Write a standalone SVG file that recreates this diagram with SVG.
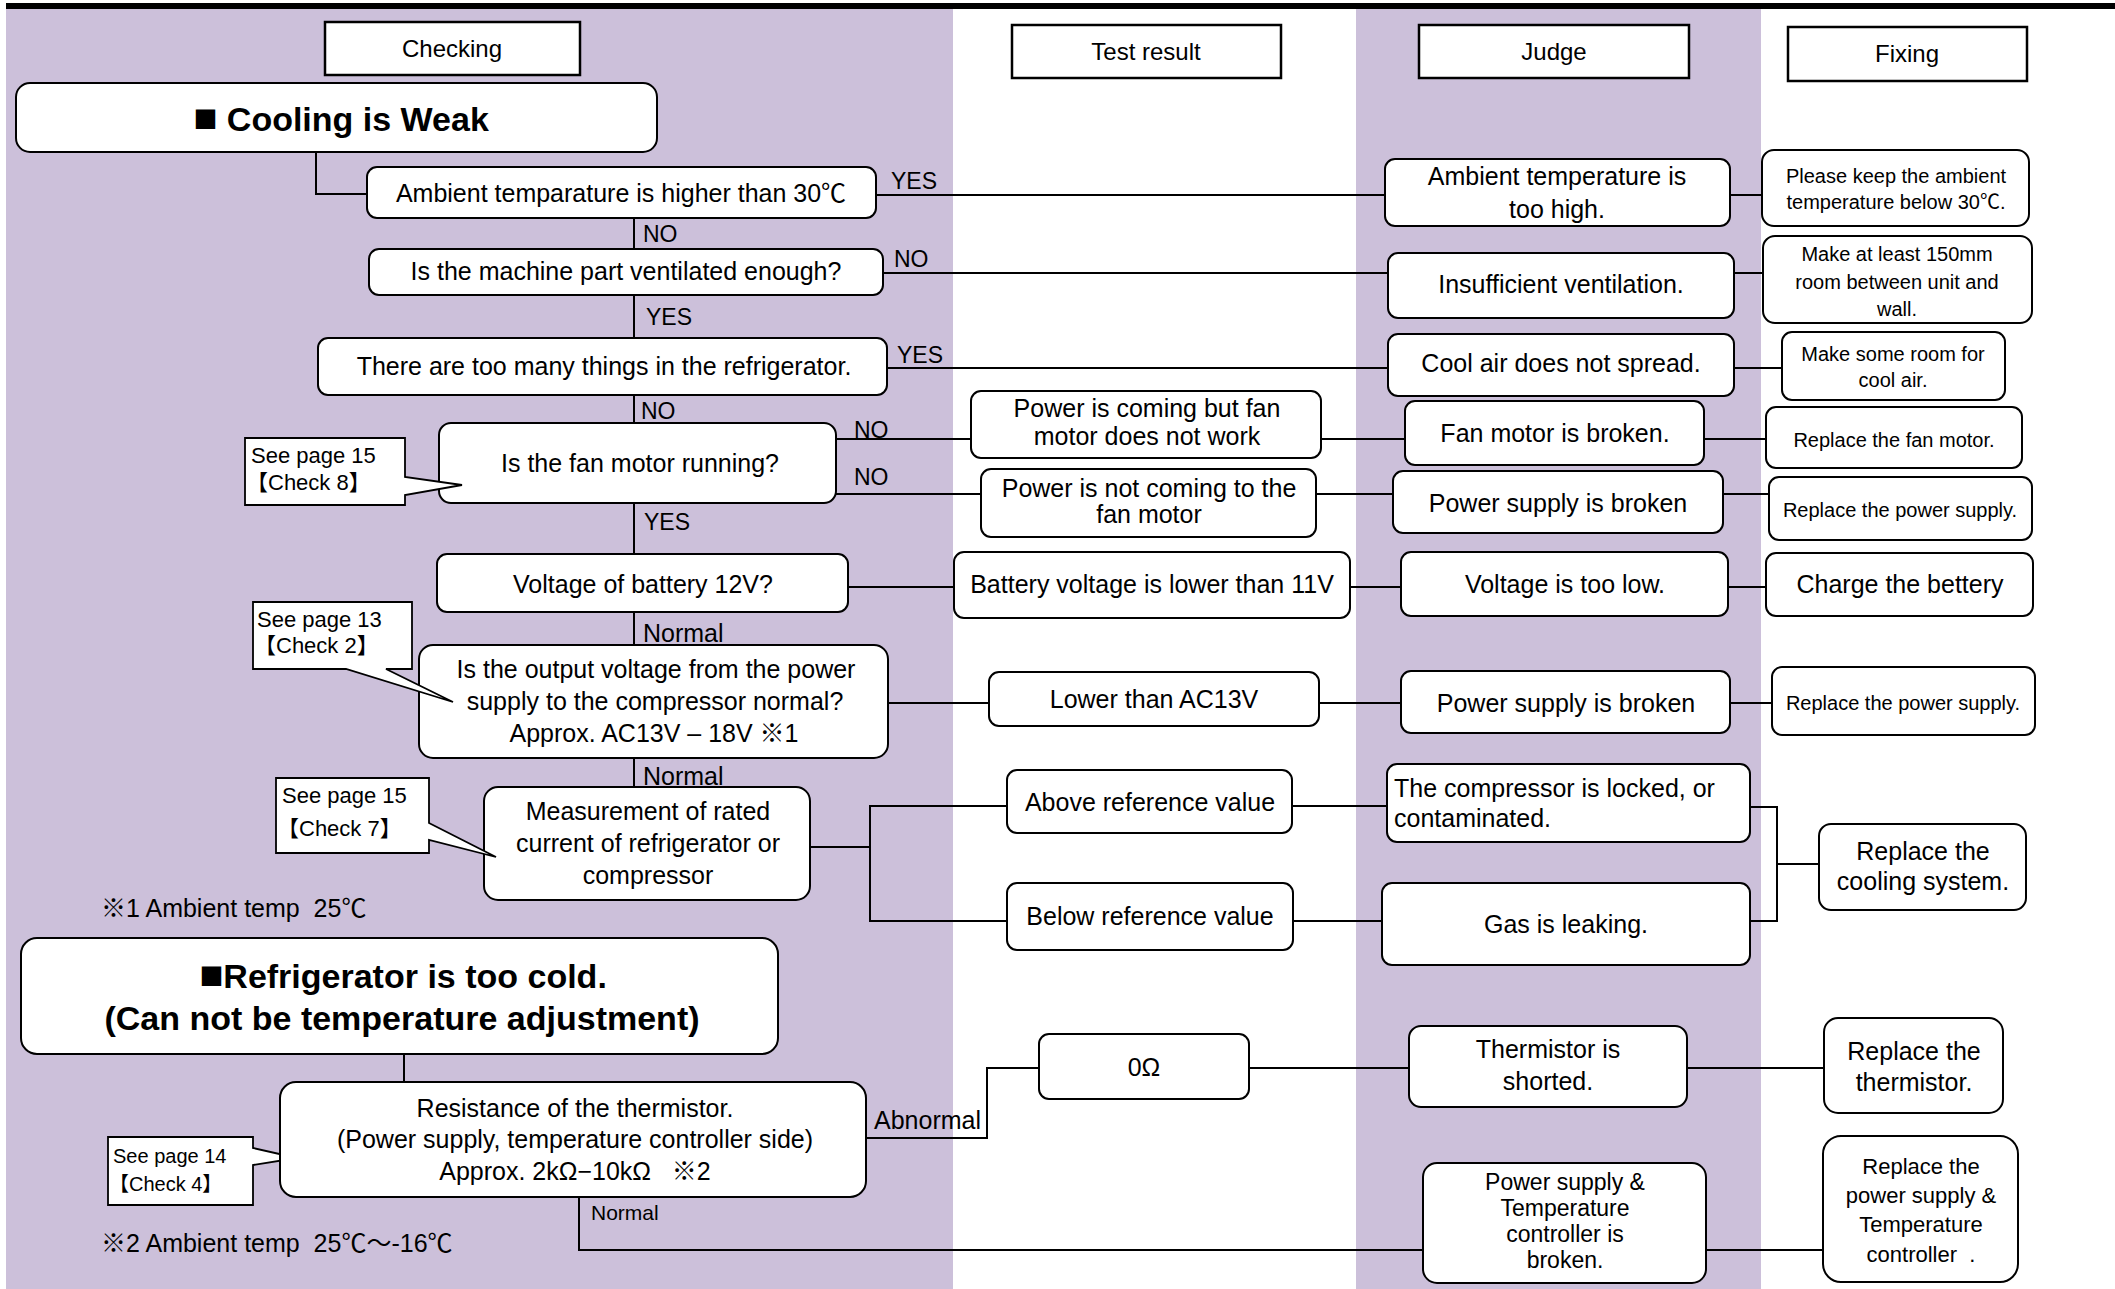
<svg xmlns="http://www.w3.org/2000/svg" width="2115" height="1289" viewBox="0 0 2115 1289">
<style>
text { font-family: "Liberation Sans", "Noto Sans CJK JP", sans-serif; fill: #000; }
.n { fill: #fff; stroke: #000; stroke-width: 2; }
.h { fill: #fff; stroke: #000; stroke-width: 2.5; }
.co { fill: #fff; stroke: #000; stroke-width: 1.8; }
.c { fill: none; stroke: #000; stroke-width: 2; }
.m { text-anchor: middle; font-size: 25px; }
.m23 { text-anchor: middle; font-size: 23px; }
.hd { text-anchor: middle; font-size: 24px; }
.s { text-anchor: middle; font-size: 20px; }
.s22 { text-anchor: middle; font-size: 22px; }
.l { font-size: 23px; }
.nt { font-size: 25px; }
.cl { font-size: 22px; }
.ti { text-anchor: middle; font-size: 34px; font-weight: bold; }
</style>
<rect x="0" y="0" width="2115" height="1289" fill="#fff"/>
<rect x="6" y="9" width="947" height="1280" fill="#CCC0DA"/>
<rect x="1356" y="9" width="405" height="1280" fill="#CCC0DA"/>
<rect x="6" y="3" width="2109" height="6" fill="#000"/>

<g id="connectors">
<path class="c" d="M316,152 V194 H367"/>
<path class="c" d="M634,218 V787"/>
<path class="c" d="M876,195 H1385"/>
<path class="c" d="M883,273 H1388"/>
<path class="c" d="M887,368 H1388"/>
<path class="c" d="M1730,195 H1762"/>
<path class="c" d="M1734,273 H1763"/>
<path class="c" d="M1734,368 H1782"/>
<path class="c" d="M836,439 H971"/>
<path class="c" d="M1321,439 H1405"/>
<path class="c" d="M1704,439 H1766"/>
<path class="c" d="M836,494 H981"/>
<path class="c" d="M1316,494 H1393"/>
<path class="c" d="M1723,494 H1769"/>
<path class="c" d="M848,587 H954"/>
<path class="c" d="M1350,587 H1401"/>
<path class="c" d="M1728,587 H1766"/>
<path class="c" d="M888,703 H989"/>
<path class="c" d="M1319,703 H1401"/>
<path class="c" d="M1730,703 H1772"/>
<path class="c" d="M810,847 H870"/>
<path class="c" d="M1007,806 H870 V921 H1007"/>
<path class="c" d="M1292,806 H1387"/>
<path class="c" d="M1293,921 H1382"/>
<path class="c" d="M1750,807 H1777 V921 H1750"/>
<path class="c" d="M1777,864 H1819"/>
<path class="c" d="M404,1054 V1082"/>
<path class="c" d="M866,1138 H987 V1068 H1039"/>
<path class="c" d="M1249,1068 H1409"/>
<path class="c" d="M1687,1068 H1824"/>
<path class="c" d="M579,1197 V1250 H1423"/>
<path class="c" d="M1706,1250 H1823"/>
</g>

<g id="labels">
<text class="l" x="891" y="189">YES</text>
<text class="l" x="643" y="242">NO</text>
<text class="l" x="894" y="267">NO</text>
<text class="l" x="646" y="325">YES</text>
<text class="l" x="897" y="363">YES</text>
<text class="l" x="641" y="419">NO</text>
<text class="l" x="854" y="438">NO</text>
<text class="l" x="854" y="485">NO</text>
<text class="l" x="644" y="530">YES</text>
<text class="nt" x="643" y="642">Normal</text>
<text class="nt" x="643" y="785">Normal</text>
<text class="nt" x="874" y="1129">Abnormal</text>
<text x="591" y="1220" font-size="21">Normal</text>
<text class="nt" x="101" y="917" xml:space="preserve">※1 Ambient temp  25℃</text>
<text class="nt" x="101" y="1252" xml:space="preserve">※2 Ambient temp  25℃～-16℃</text>
</g>

<g id="hdr-checking"><rect class="h" x="325" y="22" width="255" height="53"/><text class="hd" x="452" y="57">Checking</text></g>
<g id="hdr-test"><rect class="h" x="1012" y="25" width="269" height="53"/><text class="hd" x="1146" y="60">Test result</text></g>
<g id="hdr-judge"><rect class="h" x="1419" y="25" width="270" height="53"/><text class="hd" x="1554" y="60">Judge</text></g>
<g id="hdr-fixing"><rect class="h" x="1788" y="27" width="239" height="54"/><text class="hd" x="1907" y="62">Fixing</text></g>

<g id="title-cooling"><rect class="n" x="16" y="83" width="641" height="69" rx="14"/><text class="ti" x="341" y="131"><tspan font-size="40">■</tspan> Cooling is Weak</text></g>

<g id="c-ambient"><rect class="n" x="367" y="167" width="509" height="51" rx="10"/><text class="m" x="621" y="202">Ambient temparature is higher than 30℃</text></g>
<g id="c-vent"><rect class="n" x="369" y="249" width="514" height="46" rx="10"/><text class="m" x="626" y="280">Is the machine part ventilated enough?</text></g>
<g id="c-things"><rect class="n" x="318" y="338" width="569" height="57" rx="10"/><text class="m" x="604" y="375">There are too many things in the refrigerator.</text></g>
<g id="c-fan"><rect class="n" x="439" y="423" width="397" height="80" rx="12"/><text class="m" x="640" y="472">Is the fan motor running?</text></g>
<g id="c-battery"><rect class="n" x="437" y="554" width="411" height="58" rx="10"/><text class="m" x="643" y="593">Voltage of battery 12V?</text></g>
<g id="c-output"><rect class="n" x="419" y="645" width="469" height="113" rx="14"/><text class="m" x="656" y="678">Is the output voltage from the power</text><text class="m" x="655" y="710">supply to the compressor normal?</text><text class="m" x="654" y="742">Approx. AC13V – 18V ※1</text></g>
<g id="c-measure"><rect class="n" x="484" y="787" width="326" height="113" rx="14"/><text class="m" x="648" y="820">Measurement of rated</text><text class="m" x="648" y="852">current of refrigerator or</text><text class="m" x="648" y="884">compressor</text></g>

<g id="call-8"><path class="co" d="M245,438 H405 V477 L462,485 L405,495 V505 H245 Z"/><text class="cl" x="251" y="463">See page 15</text><text class="cl" x="246" y="490">【Check 8】</text></g>
<g id="call-2"><path class="co" d="M253,602 H412 V669 H386 L453,702 L346,669 H253 Z"/><text class="cl" x="257" y="627">See page 13</text><text class="cl" x="254" y="653">【Check 2】</text></g>
<g id="call-7"><path class="co" d="M276,778 H429 V823 L496,857 L429,840 V853 H276 Z"/><text class="cl" x="282" y="803">See page 15</text><text class="cl" x="277" y="836">【Check 7】</text></g>
<g id="call-4"><path class="co" d="M108,1137 H253 V1148 L297,1158 L253,1165 V1205 H108 Z"/><text x="113" y="1163" font-size="20">See page 14</text><text x="109" y="1191" font-size="20">【Check 4】</text></g>

<g id="title-cold"><rect class="n" x="21" y="938" width="757" height="116" rx="16"/><text class="ti" x="403" y="988"><tspan font-size="40">■</tspan>Refrigerator is too cold.</text><text class="ti" x="402" y="1030">(Can not be temperature adjustment)</text></g>
<g id="c-resist"><rect class="n" x="280" y="1082" width="586" height="115" rx="16"/><text class="m" x="575" y="1117">Resistance of the thermistor.</text><text class="m" x="575" y="1148">(Power supply, temperature controller side)</text><text class="m" x="575" y="1180" xml:space="preserve">Approx. 2kΩ−10kΩ   ※2</text></g>

<g id="t-coming"><rect class="n" x="971" y="391" width="350" height="67" rx="10"/><text class="m" x="1147" y="417">Power is coming but fan</text><text class="m" x="1147" y="445">motor does not work</text></g>
<g id="t-notcoming"><rect class="n" x="981" y="469" width="335" height="68" rx="10"/><text class="m" x="1149" y="497">Power is not coming to the</text><text class="m" x="1149" y="523">fan motor</text></g>
<g id="t-battery"><rect class="n" x="954" y="552" width="396" height="66" rx="10"/><text class="m" x="1152" y="593">Battery voltage is lower than 11V</text></g>
<g id="t-ac13"><rect class="n" x="989" y="672" width="330" height="54" rx="10"/><text class="m" x="1154" y="708">Lower than AC13V</text></g>
<g id="t-above"><rect class="n" x="1007" y="770" width="285" height="63" rx="10"/><text class="m" x="1150" y="811">Above reference value</text></g>
<g id="t-below"><rect class="n" x="1007" y="883" width="286" height="67" rx="10"/><text class="m" x="1150" y="925">Below reference value</text></g>
<g id="t-zero"><rect class="n" x="1039" y="1034" width="210" height="65" rx="10"/><text class="m" x="1144" y="1076">0Ω</text></g>

<g id="j-hot"><rect class="n" x="1385" y="159" width="345" height="67" rx="10"/><text class="m" x="1557" y="185">Ambient temperature is</text><text class="m" x="1557" y="218">too high.</text></g>
<g id="j-vent"><rect class="n" x="1388" y="253" width="346" height="65" rx="10"/><text class="m" x="1561" y="293">Insufficient ventilation.</text></g>
<g id="j-spread"><rect class="n" x="1388" y="334" width="346" height="62" rx="10"/><text class="m" x="1561" y="372">Cool air does not spread.</text></g>
<g id="j-fan"><rect class="n" x="1405" y="401" width="299" height="64" rx="10"/><text class="m" x="1555" y="442">Fan motor is broken.</text></g>
<g id="j-ps1"><rect class="n" x="1393" y="471" width="330" height="62" rx="10"/><text class="m" x="1558" y="512">Power supply is broken</text></g>
<g id="j-low"><rect class="n" x="1401" y="552" width="327" height="64" rx="10"/><text class="m" x="1565" y="593">Voltage is too low.</text></g>
<g id="j-ps2"><rect class="n" x="1401" y="671" width="329" height="62" rx="10"/><text class="m" x="1566" y="712">Power supply is broken</text></g>
<g id="j-comp"><rect class="n" x="1387" y="764" width="363" height="78" rx="10"/><text x="1394" y="797" font-size="25">The compressor is locked, or</text><text x="1394" y="827" font-size="25">contaminated.</text></g>
<g id="j-gas"><rect class="n" x="1382" y="883" width="368" height="82" rx="10"/><text class="m" x="1566" y="933">Gas is leaking.</text></g>
<g id="j-therm"><rect class="n" x="1409" y="1026" width="278" height="81" rx="12"/><text class="m" x="1548" y="1058">Thermistor is</text><text class="m" x="1548" y="1090">shorted.</text></g>
<g id="j-pstc"><rect class="n" x="1423" y="1163" width="283" height="120" rx="14"/><text class="m23" x="1565" y="1190">Power supply &amp;</text><text class="m23" x="1565" y="1216">Temperature</text><text class="m23" x="1565" y="1242">controller is</text><text class="m23" x="1565" y="1268">broken.</text></g>

<g id="f-keep"><rect class="n" x="1762" y="150" width="267" height="76" rx="12"/><text class="s" x="1896" y="183">Please keep the ambient</text><text class="s" x="1896" y="209">temperature below 30℃.</text></g>
<g id="f-room"><rect class="n" x="1763" y="236" width="269" height="87" rx="12"/><text class="s" x="1897" y="261">Make at least 150mm</text><text class="s" x="1897" y="289">room between unit and</text><text class="s" x="1897" y="316">wall.</text></g>
<g id="f-cool"><rect class="n" x="1782" y="332" width="223" height="68" rx="10"/><text class="s" x="1893" y="361">Make some room for</text><text class="s" x="1893" y="387">cool air.</text></g>
<g id="f-fan"><rect class="n" x="1766" y="407" width="256" height="61" rx="10"/><text class="s" x="1894" y="447">Replace the fan motor.</text></g>
<g id="f-ps1"><rect class="n" x="1769" y="477" width="263" height="63" rx="10"/><text class="s" x="1900" y="517">Replace the power supply.</text></g>
<g id="f-charge"><rect class="n" x="1766" y="553" width="267" height="63" rx="10"/><text class="m" x="1900" y="593">Charge the bettery</text></g>
<g id="f-ps2"><rect class="n" x="1772" y="667" width="263" height="68" rx="10"/><text class="s" x="1903" y="710">Replace the power supply.</text></g>
<g id="f-cooling"><rect class="n" x="1819" y="824" width="207" height="86" rx="12"/><text class="m" x="1923" y="860">Replace the</text><text class="m" x="1923" y="890">cooling system.</text></g>
<g id="f-therm"><rect class="n" x="1824" y="1018" width="179" height="95" rx="14"/><text class="m" x="1914" y="1060">Replace the</text><text class="m" x="1914" y="1091">thermistor.</text></g>
<g id="f-pstc"><rect class="n" x="1823" y="1136" width="195" height="146" rx="18"/><text class="s22" x="1921" y="1174">Replace the</text><text class="s22" x="1921" y="1203">power supply &amp;</text><text class="s22" x="1921" y="1232">Temperature</text><text class="s22" x="1921" y="1262" xml:space="preserve">controller  .</text></g>
</svg>
